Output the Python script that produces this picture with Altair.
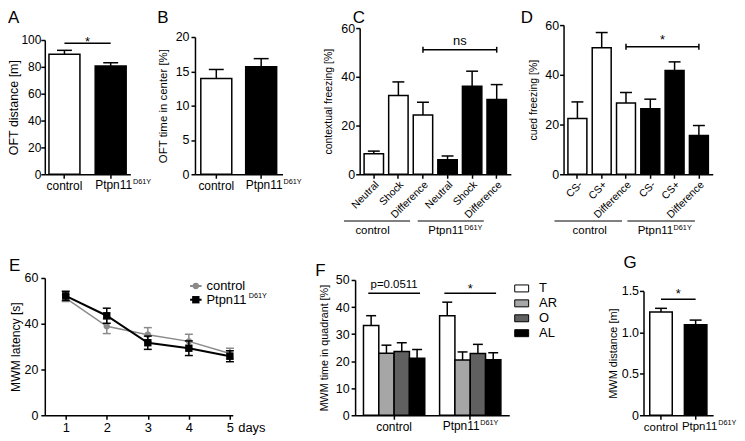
import altair as alt
import pandas as pd

FONT = "Liberation Sans"
CTRL = "control"
MUT = "Ptpn11D61Y"
GROUPS = [CTRL, MUT]
MUT_MAIN = "Ptpn11"
MUT_SUP = "D61Y"

# ---------------- data ----------------
# A: OFT distance [m]
a_mean = [89.4, 80.7]
a_sem = [2.9, 2.3]
a_sig = 97.5
# B: OFT time in center [%]
b_mean = [13.97, 15.65]
b_sem = [1.3, 1.2]
# C: contextual freezing [%]
c_conditions = ["Neutral", "Shock", "Difference"]
c_ctrl = [8.45, 32.3, 24.3]
c_ctrl_sem = [1.05, 5.6, 5.3]
c_mut = [6.0, 36.1, 30.7]
c_mut_sem = [1.5, 6.2, 6.1]
c_sig = 51.1
# D: cued freezing [%]
d_conditions = ["CS-", "CS+", "Difference"]
d_ctrl = [22.4, 50.9, 28.7]
d_ctrl_sem = [6.7, 6.1, 4.2]
d_mut = [26.4, 41.7, 15.6]
d_mut_sem = [3.8, 3.5, 4.0]
d_sig = 51.3
# E: MWM latency [s]
e_days = [1, 2, 3, 4, 5]
e_ctrl = [51.2, 38.9, 35.2, 32.3, 27.0]
e_ctrl_sem = [1.5, 3.2, 3.1, 3.1, 2.3]
e_mut = [52.2, 43.5, 31.7, 29.3, 25.8]
e_mut_sem = [2.0, 3.3, 2.9, 3.2, 2.4]
# F: MWM time in quadrant [%]
f_quadrants = ["T", "AR", "O", "AL"]
f_colors = ["white", "#a6a6a6", "#606060", "black"]
f_ctrl = [33.2, 22.9, 23.6, 21.1]
f_ctrl_sem = [3.6, 3.0, 3.2, 3.2]
f_mut = [36.8, 20.4, 22.8, 20.5]
f_mut_sem = [5.0, 3.0, 3.4, 2.6]
f_sig = 45.1
f_sig_text = ["p=0.0511", "*"]
# G: MWM distance [m]
g_mean = [1.245, 1.093]
g_sem = [0.045, 0.055]
g_sig = 1.40

GREY = "#8a8a8a"
LW = 1.5
H1 = 150   # row 1 panel height
H2 = 138   # row 2 panel height


def letter(t, dx, dy):
    return alt.TitleParams(t, anchor="start", frame="group", dx=dx, dy=dy, offset=0,
                           fontSize=17, fontWeight="normal", font=FONT, color="black")


def yenc_factory(ymax, values, title, tsize, rng, ext, lsize=12.5, expr=None, lpad=1):
    kw = dict(values=values, title=title, titleFontSize=tsize, labelFontSize=lsize,
              titlePadding=0, labelPadding=lpad, minExtent=ext, maxExtent=ext)
    if expr:
        kw["labelExpr"] = expr
    ax = alt.Axis(**kw)
    sc = alt.Scale(domain=[0, ymax], nice=False, range=rng)

    def Y(f):
        return alt.Y(f"{f}:Q", scale=sc, axis=ax)
    return Y


def two_bar(let, means, sems, ymax, yvals, ytitle, tsize, W, H, rng, ext, pin, pout, sig_y,
            star_dy, cap, ldx, title_dx, title_dy, lsize=12.5, expr=None, lpad=1, xlsize=12):
    df = pd.DataFrame({"group": GROUPS, "mean": means,
                       "top": [m + s for m, s in zip(means, sems)],
                       "fill": ["white", "black"]})
    Y = yenc_factory(ymax, yvals, ytitle, tsize, rng, ext, lsize, expr, lpad)
    xsc = alt.Scale(domain=GROUPS, paddingInner=pin, paddingOuter=pout)
    xax = alt.Axis(title=None, labelAngle=0, labelFontSize=xlsize, labelPadding=2,
                   labelExpr=f"datum.value == '{CTRL}' ? '{CTRL}' : ''")

    def X(f="group"):
        return alt.X(f"{f}:N", scale=xsc, axis=xax)
    base = alt.Chart(df)
    bars = base.mark_bar(stroke="black", strokeWidth=LW).encode(
        x=X(), y=Y("mean"), fill=alt.Fill("fill:N", scale=None))
    err = base.mark_rule(color="black", strokeWidth=LW).encode(x=X(), y=Y("mean"), y2="top:Q")
    caps = base.mark_tick(color="black", thickness=LW, size=cap, opacity=1,
                          orient="horizontal").encode(x=X(), y=Y("top"))
    sig_df = pd.DataFrame({"group": [CTRL], "group2": [MUT], "y": [sig_y]})
    sig = alt.Chart(sig_df).mark_rule(color="black", strokeWidth=LW).encode(
        x=X(), x2="group2:N", y=Y("y"))
    step = W / (2 - pin + 2 * pout)
    star = alt.Chart(sig_df).mark_text(text="*", fontSize=13, dx=step / 2, dy=star_dy,
                                       baseline="alphabetic", color="black").encode(x=X(), y=Y("y"))
    main_w = xlsize * 3.169
    lab_df = pd.DataFrame({"group": [MUT], "zero": [0]})
    lab1 = alt.Chart(lab_df).mark_text(text=MUT_MAIN, fontSize=xlsize, align="center",
                                       baseline="top", dx=ldx, dy=6, color="black").encode(x=X(), y=Y("zero"))
    lab2 = alt.Chart(lab_df).mark_text(text=MUT_SUP, fontSize=7.3, align="left",
                                       baseline="top", dx=ldx + main_w / 2 + 0.5, dy=4,
                                       color="black").encode(x=X(), y=Y("zero"))
    return alt.layer(bars, err, caps, sig, star, lab1, lab2).properties(
        width=W, height=H, title=letter(let, title_dx, title_dy))


def six_bar(let, conds, ctrl, ctrl_sem, mut, mut_sem, ytitle, tsize, W, H, rng, ext, pin, pout,
            sig_y, sig_text, sig_dy, sig_size, cap, ul_off, ul_dx, lab_dx, lab_dy,
            title_dx, title_dy):
    keys = [f"c|{c}" for c in conds] + [f"m|{c}" for c in conds]
    means = ctrl + mut
    sems = ctrl_sem + mut_sem
    df = pd.DataFrame({"key": keys, "mean": means,
                       "top": [m + s for m, s in zip(means, sems)],
                       "fill": ["white"] * 3 + ["black"] * 3})
    Y = yenc_factory(60, [0, 20, 40, 60], ytitle, tsize, rng, ext)
    xsc = alt.Scale(domain=keys, paddingInner=pin, paddingOuter=pout)
    xax = alt.Axis(title=None, labelAngle=-45, labelFontSize=10.5, labelPadding=1,
                   labelExpr="split(datum.value, '|')[1]")

    def X(f="key"):
        return alt.X(f"{f}:N", scale=xsc, axis=xax)
    base = alt.Chart(df)
    bars = base.mark_bar(stroke="black", strokeWidth=LW).encode(
        x=X(), y=Y("mean"), fill=alt.Fill("fill:N", scale=None))
    err = base.mark_rule(color="black", strokeWidth=LW).encode(x=X(), y=Y("mean"), y2="top:Q")
    caps = base.mark_tick(color="black", thickness=LW, size=cap, opacity=1,
                          orient="horizontal").encode(x=X(), y=Y("top"))
    sig_df = pd.DataFrame({"key": [keys[2]], "key2": [keys[5]], "y": [sig_y]})
    sig = alt.Chart(sig_df).mark_rule(color="black", strokeWidth=LW).encode(
        x=X(), x2="key2:N", y=Y("y"))
    end_df = pd.DataFrame({"key": [keys[2], keys[5]], "lo": [sig_y - 1.2] * 2, "hi": [sig_y + 1.2] * 2})
    ends = alt.Chart(end_df).mark_rule(color="black", strokeWidth=LW).encode(
        x=X(), y=Y("lo"), y2="hi:Q")
    step = W / (6 - pin + 2 * pout)
    # bracket midpoint lies half a step right of the 4th bar's centre
    txt_df = pd.DataFrame({"key": [keys[3]], "y": [sig_y]})
    sig_t = alt.Chart(txt_df).mark_text(text=sig_text, fontSize=sig_size, dx=step / 2, dy=sig_dy,
                                        baseline="alphabetic", color="black").encode(x=X(), y=Y("y"))
    ul_df = pd.DataFrame({"key": [keys[0], keys[3]], "key2": [keys[2], keys[5]],
                          "mid": [keys[1], keys[4]], "zero": [0, 0]})
    ul = alt.Chart(ul_df).mark_rule(color="black", strokeWidth=1, yOffset=ul_off,
                                    xOffset=ul_dx[0], x2Offset=ul_dx[1]).encode(
        x=X(), x2="key2:N", y=Y("zero"))
    g1 = alt.Chart(ul_df.iloc[[0]]).mark_text(text=CTRL, fontSize=11.5, baseline="top",
                                              dx=lab_dx[0], dy=lab_dy, color="black").encode(
        x=X("mid"), y=Y("zero"))
    g2 = alt.Chart(ul_df.iloc[[1]]).mark_text(text=MUT_MAIN, fontSize=11.5, baseline="top", align="right",
                                              dx=lab_dx[1] + 9.5, dy=lab_dy, color="black").encode(
        x=X("mid"), y=Y("zero"))
    g3 = alt.Chart(ul_df.iloc[[1]]).mark_text(text=MUT_SUP, fontSize=7.3, baseline="top", align="left",
                                              dx=lab_dx[1] + 10, dy=lab_dy - 1, color="black").encode(
        x=X("mid"), y=Y("zero"))
    return alt.layer(bars, err, caps, sig, ends, sig_t, ul, g1, g2, g3).properties(
        width=W, height=H, title=letter(let, title_dx, title_dy))


# ---------------- panels A-D ----------------
A = two_bar("A", a_mean, a_sem, 100, [0, 20, 40, 60, 80, 100], "OFT distance [m]", 12.5,
            86, H1, [H1, 15], 24, 0.33, 0.09, a_sig, 3, 15, 3, -37, 2.1, lsize=12, lpad=0)
B = two_bar("B", b_mean, b_sem, 20, [0, 5, 10, 15, 20], "OFT time in center [%]", 11.5,
            88, H1, [H1, 12], 27, 0.31, 0.13, None, 0, 15, 3, -38, 2.1, lpad=2)
C = six_bar("C", c_conditions, c_ctrl, c_ctrl_sem, c_mut, c_mut_sem, "contextual freezing [%]", 10.5,
            152, H1, [H1, 3], 26, 0.21, 0.18, c_sig, "ns", -5, 13, 12, 47, (-30, -13), (-26, -18), 51,
            -7, 5.35)
D = six_bar("D", d_conditions, d_ctrl, d_ctrl_sem, d_mut, d_mut_sem, "cued freezing [%]", 10.5,
            150, H1, [H1, 0], 25, 0.22, 0.18, d_sig, "*", -3, 13, 12, 47, (-23, -4), (-12, -11), 51,
            -43, 8.35)

# ---------------- panel E ----------------
e_df = pd.DataFrame({
    "day": e_days * 2,
    "mean": e_ctrl + e_mut,
    "lo": [m - s for m, s in zip(e_ctrl, e_ctrl_sem)] + [m - s for m, s in zip(e_mut, e_mut_sem)],
    "hi": [m + s for m, s in zip(e_ctrl, e_ctrl_sem)] + [m + s for m, s in zip(e_mut, e_mut_sem)],
    "series": [CTRL] * 5 + [MUT] * 5,
})
EW = 189
eY = yenc_factory(60, [0, 20, 40, 60], "MWM latency [s]", 12.2, [H2, 0], 22, lpad=3)
exsc = alt.Scale(domain=[0.49, 5.07], nice=False, zero=False)
exax = alt.Axis(values=e_days, labelFontSize=13, title="days", titleFontSize=13, titleFontWeight="normal",
                titleX=EW + 5, titleY=6, titleAlign="left", titleBaseline="top", titleAngle=0,
                labelPadding=2, labelFlush=False)


def eX(f="day"):
    return alt.X(f"{f}:Q", scale=exsc, axis=exax)


def e_series(name, color, shape, size, width):
    sub = alt.Chart(e_df).transform_filter(alt.datum.series == name)
    line = sub.mark_line(color=color, strokeWidth=width).encode(x=eX(), y=eY("mean"))
    err = sub.mark_rule(color=color, strokeWidth=LW).encode(x=eX(), y=eY("lo"), y2="hi:Q")
    c1 = sub.mark_tick(color=color, thickness=LW, size=8, opacity=1, orient="horizontal").encode(x=eX(), y=eY("lo"))
    c2 = sub.mark_tick(color=color, thickness=LW, size=8, opacity=1, orient="horizontal").encode(x=eX(), y=eY("hi"))
    pts = sub.mark_point(color=color, filled=True, shape=shape, size=size, opacity=1).encode(x=eX(), y=eY("mean"))
    return [line, err, c1, c2, pts]


# legend drawn in data units of panel E
leg_df = pd.DataFrame({"series": [CTRL, MUT], "x1": [4.03, 4.03], "x2": [4.31, 4.31],
                       "xm": [4.17, 4.17], "xt": [4.43, 4.43], "y": [56.5, 50.5]})
leg_layers = []
for name, color, shape, size in [(CTRL, GREY, "circle", 40), (MUT, "black", "square", 55)]:
    s = alt.Chart(leg_df).transform_filter(alt.datum.series == name)
    leg_layers.append(s.mark_rule(color=color, strokeWidth=2).encode(x=eX("x1"), x2="x2:Q", y=eY("y")))
    leg_layers.append(s.mark_point(color=color, filled=True, shape=shape, size=size, opacity=1).encode(
        x=eX("xm"), y=eY("y")))
leg_c = alt.Chart(leg_df).transform_filter(alt.datum.series == CTRL)
leg_m = alt.Chart(leg_df).transform_filter(alt.datum.series == MUT)
leg_layers.append(leg_c.mark_text(text=CTRL, fontSize=13, align="left", baseline="middle", color="black").encode(
    x=eX("xt"), y=eY("y")))
leg_layers.append(leg_m.mark_text(text=MUT_MAIN, fontSize=13, align="left", baseline="middle", color="black").encode(
    x=eX("xt"), y=eY("y")))
leg_layers.append(leg_m.mark_text(text=MUT_SUP, fontSize=7.3, align="left", baseline="middle", dx=42.5, dy=-3.5,
                                  color="black").encode(x=eX("xt"), y=eY("y")))

E = alt.layer(*(e_series(CTRL, GREY, "circle", 40, 1.5) + e_series(MUT, "black", "square", 55, 2) + leg_layers)
              ).properties(width=EW, height=H2, title=letter("E", -36, 3.45))

# ---------------- panel F ----------------
f_df = pd.DataFrame({
    "group": [CTRL] * 4 + [MUT] * 4,
    "quad": f_quadrants * 2,
    "mean": f_ctrl + f_mut,
    "top": [m + s for m, s in zip(f_ctrl, f_ctrl_sem)] + [m + s for m, s in zip(f_mut, f_mut_sem)],
})
FW = 155
fY = yenc_factory(50, [0, 10, 20, 30, 40, 50], "MWM time in quadrant [%]", 10.8, [H2, 2], 26, lpad=2)
fxsc = alt.Scale(domain=GROUPS, paddingInner=0.195, paddingOuter=0.11)
fxax = alt.Axis(title=None, labelAngle=0, labelFontSize=12, labelPadding=2,
                labelExpr=f"datum.value == '{CTRL}' ? '{CTRL}' : ''")


def fX(f="group"):
    return alt.X(f"{f}:N", scale=fxsc, axis=fxax)


fOff = alt.XOffset("quad:N", scale=alt.Scale(domain=f_quadrants, paddingInner=0, paddingOuter=0))
fbase = alt.Chart(f_df)
f_bars = fbase.mark_bar(stroke="black", strokeWidth=LW).encode(
    x=fX(), xOffset=fOff, y=fY("mean"),
    fill=alt.Fill("quad:N", scale=alt.Scale(domain=f_quadrants, range=f_colors),
                  legend=alt.Legend(title=None, orient="none", legendX=FW + 5, legendY=3, padding=0,
                                    labelFontSize=13, symbolType="M-1,-0.5H1V0.5H-1Z", symbolSize=196,
                                    symbolStrokeColor="black", symbolStrokeWidth=1,
                                    rowPadding=0, labelOffset=10, labelColor="black")))
f_err = fbase.mark_rule(color="black", strokeWidth=LW).encode(x=fX(), xOffset=fOff, y=fY("mean"), y2="top:Q")
f_caps = fbase.mark_tick(color="black", thickness=LW, size=10, opacity=1, orient="horizontal").encode(
    x=fX(), xOffset=fOff, y=fY("top"))
fsig_df = pd.DataFrame({"group": GROUPS, "y": [f_sig, f_sig], "label": f_sig_text})
f_sig_l = alt.Chart(fsig_df).mark_tick(color="black", thickness=LW, size=52, opacity=1,
                                       orient="horizontal").encode(x=fX(), y=fY("y"))
f_sig_t1 = alt.Chart(fsig_df.iloc[[0]]).mark_text(fontSize=11.5, baseline="alphabetic", dy=-5,
                                                  color="black").encode(x=fX(), y=fY("y"), text="label:N")
f_sig_t2 = alt.Chart(fsig_df.iloc[[1]]).mark_text(fontSize=13, baseline="alphabetic", dy=0,
                                                  color="black").encode(x=fX(), y=fY("y"), text="label:N")
flab_df = pd.DataFrame({"group": [MUT], "zero": [0]})
f_l1 = alt.Chart(flab_df).mark_text(text=MUT_MAIN, fontSize=12, align="right", baseline="top", dx=9.4, dy=6,
                                    color="black").encode(x=fX(), y=fY("zero"))
f_l2 = alt.Chart(flab_df).mark_text(text=MUT_SUP, fontSize=7.3, align="left", baseline="top", dx=10, dy=4,
                                    color="black").encode(x=fX(), y=fY("zero"))
F = alt.layer(f_bars, f_err, f_caps, f_sig_l, f_sig_t1, f_sig_t2, f_l1, f_l2).properties(
    width=FW, height=H2, title=letter("F", -40, 6.45))

# ---------------- panel G ----------------
G = two_bar("G", g_mean, g_sem, 1.5, [0, 0.5, 1.0, 1.5], "MWM distance [m]", 11,
            70, H2, [H2, 13], 25, 0.35, 0.18, g_sig, -1, 12, 4, -20, -5.8,
            expr="datum.value == 0 ? '0' : format(datum.value, '.1f')", xlsize=11.5)

IND = dict(fill="independent")
row1 = alt.hconcat(
    alt.hconcat(A, B, spacing=5).resolve_scale(**IND).resolve_legend(**IND),
    alt.hconcat(C, D, spacing=10).resolve_scale(**IND).resolve_legend(**IND),
    spacing=21.6).resolve_scale(**IND).resolve_legend(**IND)
row2 = alt.hconcat(
    alt.hconcat(E, F, spacing=48).resolve_scale(**IND).resolve_legend(**IND),
    G, spacing=50).resolve_scale(**IND).resolve_legend(**IND)

chart = alt.vconcat(row1, row2, spacing=17.3).resolve_scale(**IND).resolve_legend(**IND).properties(
    padding=0
).configure(font=FONT).configure_view(stroke=None).configure_axis(
    domainColor="black", domainWidth=LW, tickColor="black", tickWidth=LW, tickSize=4,
    labelColor="black", titleColor="black", titleFontWeight="normal", grid=False,
    labelFont=FONT, titleFont=FONT
).configure_text(font=FONT)

chart.save("out.html", embed_options={"renderer": "svg", "actions": False})
